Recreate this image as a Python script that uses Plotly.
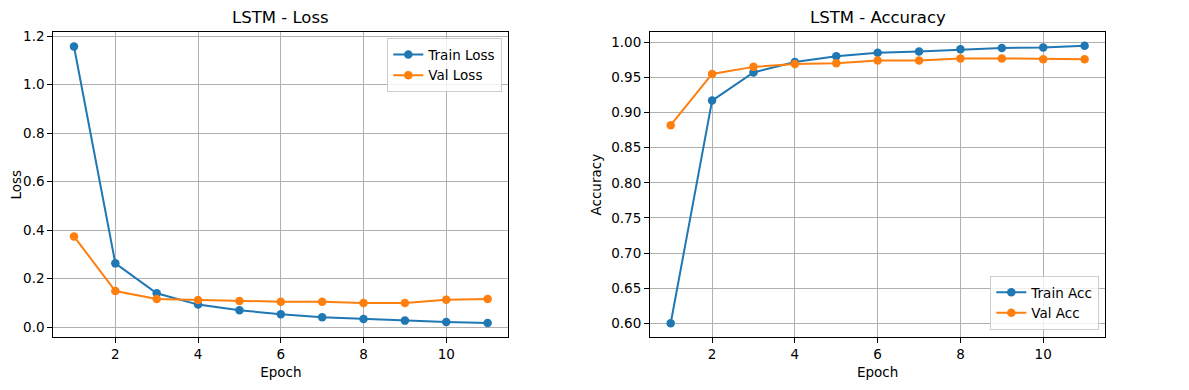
import plotly.graph_objects as go

epochs = [1, 2, 3, 4, 5, 6, 7, 8, 9, 10, 11]
train_loss = [1.157, 0.263, 0.140, 0.093, 0.070, 0.053, 0.041, 0.034, 0.027, 0.021, 0.017]
val_loss = [0.374, 0.149, 0.116, 0.112, 0.108, 0.105, 0.105, 0.100, 0.100, 0.113, 0.116]
train_acc = [0.600, 0.917, 0.957, 0.972, 0.980, 0.985, 0.987, 0.990, 0.992, 0.9925, 0.995]
val_acc = [0.882, 0.955, 0.965, 0.969, 0.970, 0.974, 0.974, 0.977, 0.977, 0.976, 0.976]

BLUE = "#1f77b4"
ORANGE = "#ff7f0e"
FONT = "DejaVu Sans"
OFF = 8  # default page body margin
W, H = 1189 - 2 * OFF, 390 - 2 * OFF

def px_x(p):
    return (p - OFF) / W

def px_y(p):
    return 1 - (p - OFF) / H

def tr(x, y, name, color, xa, ya, legend):
    return go.Scatter(x=x, y=y, name=name, mode="lines+markers",
                      line=dict(color=color, width=2),
                      marker=dict(color=color, size=8.5),
                      xaxis=xa, yaxis=ya, legend=legend)

fig = go.Figure()
fig.add_trace(tr(epochs, train_loss, "Train Loss", BLUE, "x", "y", "legend"))
fig.add_trace(tr(epochs, val_loss, "Val Loss", ORANGE, "x", "y", "legend"))
fig.add_trace(tr(epochs, train_acc, "Train Acc", BLUE, "x2", "y2", "legend2"))
fig.add_trace(tr(epochs, val_acc, "Val Acc", ORANGE, "x2", "y2", "legend2"))

ax_common = dict(showline=True, mirror=True, linecolor="black", linewidth=1,
                 showgrid=True, gridcolor="#b0b0b0", gridwidth=0.8,
                 ticks="outside", ticklen=5, tickcolor="black", tickwidth=1,
                 zeroline=False, automargin=False,
                 tickfont=dict(family=FONT, size=13.5, color="black"))

L1, R1 = px_x(53.3), px_x(508.3)
L2, R2 = px_x(650), px_x(1105.3)
T, B = px_y(32.3), px_y(337)

fig.update_layout(
    width=W, height=H, margin=dict(l=0, r=0, t=0, b=0, autoexpand=False),
    paper_bgcolor="white", plot_bgcolor="white",
    font=dict(family=FONT, size=13.5, color="black"),
    xaxis=dict(domain=[L1, R1], anchor="y", range=[0.5, 11.5], tick0=0, dtick=2,
               title=dict(text="Epoch", standoff=6, font=dict(family=FONT, size=13.5)), **ax_common),
    yaxis=dict(domain=[B, T], anchor="x", range=[-0.0405, 1.2155], tick0=0, dtick=0.2,
               tickformat=".1f",
               title=dict(text="Loss", standoff=6, font=dict(family=FONT, size=13.5)), **ax_common),
    xaxis2=dict(domain=[L2, R2], anchor="y2", range=[0.5, 11.5], tick0=0, dtick=2,
                title=dict(text="Epoch", standoff=6, font=dict(family=FONT, size=13.5)), **ax_common),
    yaxis2=dict(domain=[B, T], anchor="x2", range=[0.5805, 1.0142], tick0=0, dtick=0.05,
                tickformat=".2f",
                title=dict(text="Accuracy", standoff=6, font=dict(family=FONT, size=13.5)), **ax_common),
    legend=dict(x=R1 - 6 / W, y=T - 6 / H, xanchor="right", yanchor="top",
                bgcolor="rgba(255,255,255,0.8)", bordercolor="#cccccc", borderwidth=1,
                font=dict(family=FONT, size=13.5), itemwidth=30, tracegroupgap=0),
    legend2=dict(x=R2 - 6 / W, y=B + 7 / H, xanchor="right", yanchor="bottom",
                 bgcolor="rgba(255,255,255,0.8)", bordercolor="#cccccc", borderwidth=1,
                 font=dict(family=FONT, size=13.5), itemwidth=30, tracegroupgap=0),
    annotations=[
        dict(text="LSTM - Loss", x=(L1 + R1) / 2, y=px_y(18), xref="paper", yref="paper",
             showarrow=False, xanchor="center", yanchor="middle", font=dict(family=FONT, size=16.5)),
        dict(text="LSTM - Accuracy", x=(L2 + R2) / 2, y=px_y(18), xref="paper", yref="paper",
             showarrow=False, xanchor="center", yanchor="middle", font=dict(family=FONT, size=16.5)),
    ],
)

fig.write_html("out.html")
